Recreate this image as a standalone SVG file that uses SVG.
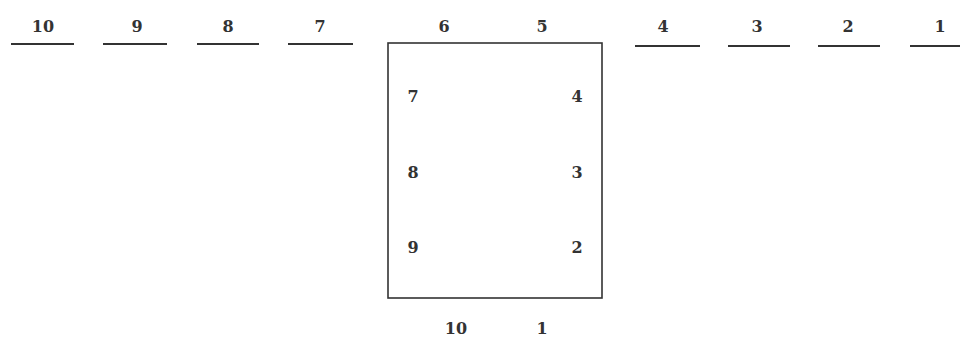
<svg xmlns="http://www.w3.org/2000/svg" width="960" height="337" viewBox="0 0 960 337">
<style>
text{font-family:"DejaVu Serif","Liberation Serif",serif;font-size:16px;font-weight:bold;fill:#333;text-anchor:middle}
.u{stroke:#333;stroke-width:1.8;fill:none}
.box{stroke:#333;stroke-width:1.6;fill:none}
</style>
<rect width="960" height="337" fill="#fff"/>
<g id="slot10"><text x="43" y="32">10</text><line class="u" x1="11" y1="44" x2="74" y2="44"/></g>
<g id="slot9"><text x="137" y="32">9</text><line class="u" x1="103" y1="44" x2="167" y2="44"/></g>
<g id="slot8"><text x="228" y="32">8</text><line class="u" x1="197" y1="44" x2="259" y2="44"/></g>
<g id="slot7"><text x="320" y="32">7</text><line class="u" x1="288" y1="44" x2="353" y2="44"/></g>
<g id="slot4"><text x="663" y="32">4</text><line class="u" x1="635" y1="46" x2="700" y2="46"/></g>
<g id="slot3"><text x="757" y="32">3</text><line class="u" x1="728" y1="46" x2="790" y2="46"/></g>
<g id="slot2"><text x="848" y="32">2</text><line class="u" x1="818" y1="46" x2="880" y2="46"/></g>
<g id="slot1"><text x="940" y="32">1</text><line class="u" x1="910" y1="46" x2="960" y2="46"/></g>
<g id="box">
<rect class="box" x="388" y="43" width="214" height="255"/>
<text x="444" y="32">6</text>
<text x="542" y="32">5</text>
<text x="413" y="102">7</text>
<text x="577" y="102">4</text>
<text x="413" y="178">8</text>
<text x="577" y="178">3</text>
<text x="413" y="253">9</text>
<text x="577" y="253">2</text>
<text x="456" y="334">10</text>
<text x="542" y="334">1</text>
</g>
</svg>
